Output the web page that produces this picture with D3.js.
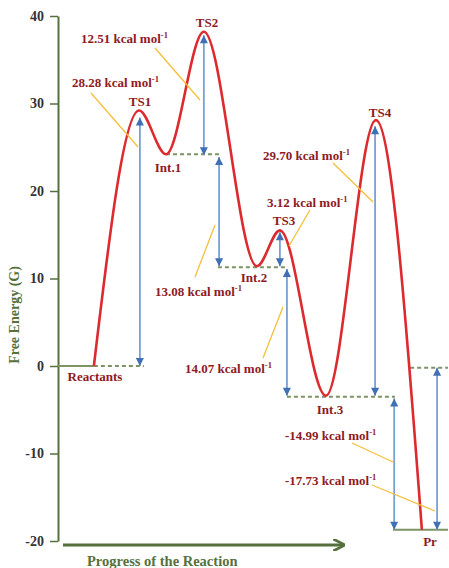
<!DOCTYPE html>
<html>
<head>
<meta charset="utf-8">
<script src="https://cdn.jsdelivr.net/npm/d3@7"></script>
<style>
  html, body { margin: 0; padding: 0; background: #fff; }
  svg text { font-family: "Liberation Serif", "Times New Roman", serif; font-weight: bold; }
</style>
</head>
<body>
<div id="chart"></div>
<script>
// Stationary points along the reaction path
const levelNames = ['Reactants', 'TS1', 'Int.1', 'TS2', 'Int.2', 'TS3', 'Int.3', 'TS4', 'Pr'];
const levelProgress = [9.2, 20.8, 27.7, 37.4, 51.0, 56.9, 68.7, 81.5, 93.3];
const levelEnergy = [0, 29.2, 24.2, 38.2, 11.4, 15.5, -3.4, 28.1, -18.7];

// Energy gaps (double-headed arrows)
const gapProgress = [21.0, 37.4, 41.3, 56.9, 58.7, 81.3, 86.2, 97.2];
const gapTop = [28.4, 37.8, 23.9, 15.3, 11.1, 27.4, -3.7, -0.2];
const gapBottom = [0, 24.1, 11.4, 11.4, -3.4, -3.4, -18.7, -18.7];
const gapLabels = ['28.28', '12.51', '13.08', '3.12', '14.07', '29.70', '-14.99', '-17.73'];

// Reference level lines
const refEnergy = [0, 0, 24.2, 11.3, -3.5, -0.2, -18.7];
const refStart = [0, 9.2, 27.7, 41.0, 58.7, 90.3, 85.9];
const refEnd = [9.2, 22.0, 41.5, 59.0, 86.4, 100, 100];
const refDashed = [false, true, true, true, true, true, false];

const yTicks = [40, 30, 20, 10, 0, -10, -20];

const W = 449, H = 568;
const green = '#56713c', maroon = '#8e1a24', red = '#dc2a2e';

const svg = d3.select('#chart').append('svg').attr('width', W).attr('height', H);

const x = d3.scaleLinear().domain([0, 100]).range([58, 448]);
const y = d3.scaleLinear().domain([-20, 40]).range([541, 16]);

const defs = svg.append('defs');
defs.append('marker')
  .attr('id', 'blue-head').attr('viewBox', '0 0 10 10')
  .attr('refX', 10).attr('refY', 5)
  .attr('markerWidth', 9).attr('markerHeight', 8)
  .attr('markerUnits', 'userSpaceOnUse')
  .attr('orient', 'auto-start-reverse')
  .append('path').attr('d', 'M0,0 L10,5 L0,10 z').attr('fill', '#3f6fb5');
defs.append('marker')
  .attr('id', 'green-head').attr('viewBox', '0 0 10 10')
  .attr('refX', 9).attr('refY', 5)
  .attr('markerWidth', 12).attr('markerHeight', 12)
  .attr('markerUnits', 'userSpaceOnUse')
  .attr('orient', 'auto')
  .append('path').attr('d', 'M0,0 L10,5 L0,10').attr('fill', 'none')
  .attr('stroke', green).attr('stroke-width', 2.2);

// Y axis
const yAxis = svg.append('g')
  .attr('transform', `translate(${x(0)},0)`)
  .call(d3.axisLeft(y).tickValues(yTicks).tickSize(8).tickSizeOuter(0).tickPadding(6).tickFormat(d => String(d)));
yAxis.select('.domain').attr('stroke', green).attr('stroke-width', 2);
yAxis.selectAll('.tick line').attr('stroke', green).attr('stroke-width', 1.5);
yAxis.selectAll('.tick text')
  .style('font-family', '"Liberation Serif", serif').style('font-weight', 'bold')
  .style('font-size', '14px').attr('fill', '#333');

svg.append('text')
  .attr('transform', 'translate(19,315) rotate(-90)')
  .attr('text-anchor', 'middle')
  .style('font-size', '14px').attr('fill', green)
  .text('Free Energy (G)');

// X axis arrow
svg.append('line')
  .attr('x1', 63).attr('x2', 344).attr('y1', 545).attr('y2', 545)
  .attr('stroke', green).attr('stroke-width', 3)
  .attr('marker-end', 'url(#green-head)');
svg.append('text')
  .attr('x', 87).attr('y', 566)
  .style('font-size', '14.5px').attr('fill', green)
  .text('Progress of the Reaction');

// Level lines
svg.selectAll('.ref')
  .data(refEnergy).enter().append('line')
  .attr('x1', (d, i) => x(refStart[i]))
  .attr('x2', (d, i) => x(refEnd[i]))
  .attr('y1', d => y(d)).attr('y2', d => y(d))
  .attr('stroke', '#7d9366').attr('stroke-width', 2)
  .attr('stroke-dasharray', (d, i) => refDashed[i] ? '4,3' : null);

// Energy curve
const pts = levelProgress.map((p, i) => [p, levelEnergy[i]]);
svg.append('path')
  .attr('d', d3.line().x(d => x(d[0])).y(d => y(d[1])).curve(d3.curveMonotoneX)(pts))
  .attr('fill', 'none').attr('stroke', red).attr('stroke-width', 2.6);

// Gap arrows
svg.selectAll('.gap')
  .data(gapProgress).enter().append('line')
  .attr('x1', d => x(d)).attr('x2', d => x(d))
  .attr('y1', (d, i) => y(gapBottom[i]))
  .attr('y2', (d, i) => y(gapTop[i]))
  .attr('stroke', '#7aa0d0').attr('stroke-width', 1.8)
  .attr('marker-start', 'url(#blue-head)')
  .attr('marker-end', 'url(#blue-head)');

// Leader lines for energy labels (label order matches gapLabels)
const leaders = [
  [91, 93, 138, 147],
  [155, 48, 200, 100],
  [195, 277, 215, 225],
  [310, 210, 289, 246],
  [263, 358, 283, 307],
  [333, 163, 373, 202],
  [352, 443, 393, 462],
  [372, 485, 435, 511]
];
const labelPos = [
  [72, 87], [81, 43], [155, 296], [267, 207],
  [185, 373], [263, 160], [285, 440], [285, 485]
];
svg.selectAll('.leader')
  .data(leaders).enter().append('line')
  .attr('x1', d => d[0]).attr('y1', d => d[1])
  .attr('x2', d => d[2]).attr('y2', d => d[3])
  .attr('stroke', '#f5bf3a').attr('stroke-width', 1.3);

const gl = svg.selectAll('.glabel')
  .data(gapLabels).enter().append('text')
  .attr('x', (d, i) => labelPos[i][0]).attr('y', (d, i) => labelPos[i][1])
  .style('font-size', '13px').attr('fill', maroon);
gl.append('tspan').text(d => d + ' kcal mol');
gl.append('tspan').attr('dy', -5).style('font-size', '8.5px').text('-1');

// Stationary point names
const namePos = [[95, 381], [140, 106], [168, 172], [207, 27], [254, 282], [284, 225], [330, 414], [380, 117], [430, 546]];
svg.selectAll('.name')
  .data(levelNames).enter().append('text')
  .attr('x', (d, i) => namePos[i][0]).attr('y', (d, i) => namePos[i][1])
  .attr('text-anchor', 'middle')
  .style('font-size', '13px').attr('fill', maroon)
  .text(d => d);
</script>
</body>
</html>
